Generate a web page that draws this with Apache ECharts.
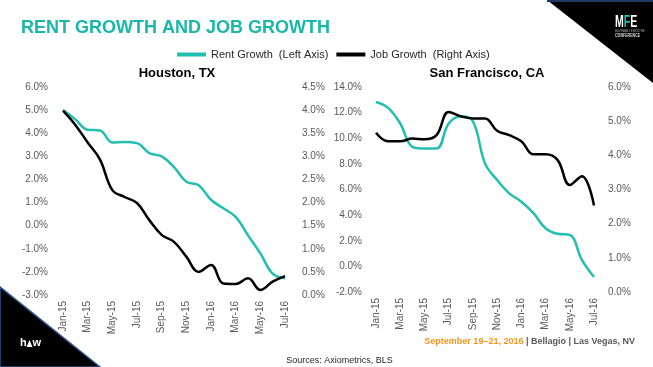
<!DOCTYPE html>
<html>
<head>
<meta charset="utf-8">
<script src="https://cdn.jsdelivr.net/npm/echarts@6/dist/echarts.min.js"></script>
<style>
html,body{margin:0;padding:0;background:#fff;}
#chart{width:653px;height:367px;}
</style>
</head>
<body>
<div id="chart"></div>
<script>
// ---- data ----
var months = ['Jan-15','Feb-15','Mar-15','Apr-15','May-15','Jun-15','Jul-15','Aug-15','Sep-15','Oct-15','Nov-15','Dec-15','Jan-16','Feb-16','Mar-16','Apr-16','May-16','Jun-16','Jul-16'];
var houstonRent = [5.0, 4.6, 4.15, 4.12, 3.6, 3.62, 3.57, 3.14, 3.0, 2.53, 1.9, 1.75, 1.12, 0.75, 0.38, -0.42, -1.2, -2.08, -2.28];
var houstonJob  = [3.99, 3.68, 3.30, 2.93, 2.27, 2.12, 1.99, 1.62, 1.30, 1.15, 0.83, 0.50, 0.65, 0.25, 0.24, 0.36, 0.11, 0.29, 0.41];
var sfRent = [12.83, 12.37, 11.15, 9.33, 9.2, 9.2, 11.15, 11.72, 11.33, 8.04, 6.74, 5.7, 5.05, 4.15, 2.98, 2.54, 2.46, 0.51, -0.83];
var sfJob  = [4.66, 4.41, 4.41, 4.49, 4.47, 4.59, 5.27, 5.14, 5.08, 5.08, 4.72, 4.59, 4.41, 4.03, 4.03, 3.86, 3.13, 3.39, 2.53];
var rentName = 'Rent Growth  (Left Axis)';
var jobName = 'Job Growth  (Right Axis)';
var cityNames = ['Houston, TX', 'San Francisco, CA'];

var TEAL = '#22bfb1';
var FONT = '"Liberation Sans", Arial, sans-serif';
var chart = echarts.init(document.getElementById('chart'), null, {renderer:'canvas'});

function pct(v){ return v.toFixed(1) + '%'; }
function xAxisCfg(gi){
  return {
    type:'category', gridIndex:gi, data:months, boundaryGap:false,
    axisLine:{show:false}, axisTick:{show:false},
    axisLabel:{rotate:90, interval:1, margin:6, fontSize:10, color:'#595959', fontFamily:FONT}
  };
}
function yAxisCfg(gi, pos, min, max, interval, margin){
  return {
    type:'value', gridIndex:gi, position:pos, min:min, max:max, interval:interval,
    axisLine:{show:false}, axisTick:{show:false}, splitLine:{show:false},
    axisLabel:{formatter:pct, fontSize:10, color:'#595959', margin:margin, fontFamily:FONT}
  };
}
function lineSeries(name, xi, yi, data, color){
  return {
    name:name, type:'line', xAxisIndex:xi, yAxisIndex:yi, data:data,
    smooth:0.4, showSymbol:false, symbol:'none',
    lineStyle:{color:color, width:2.5}, itemStyle:{color:color},
    emphasis:{disabled:true}
  };
}

var option = {
  backgroundColor:'#ffffff',
  animation:false,
  textStyle:{fontFamily:FONT},
  title:[
    {text:cityNames[0], left:172, top:62, textAlign:'center',
     textStyle:{fontSize:13, fontWeight:'bold', color:'#000', fontFamily:FONT}},
    {text:cityNames[1], left:482, top:62, textAlign:'center',
     textStyle:{fontSize:13, fontWeight:'bold', color:'#000', fontFamily:FONT}}
  ],
  legend:{
    data:[rentName, jobName], left:172, top:44,
    icon:'rect', itemWidth:29, itemHeight:4, itemGap:8,
    textStyle:{fontSize:11, color:'#262626', fontFamily:FONT}
  },
  grid:[
    {left:63, width:222, top:87, bottom:72},
    {left:376, width:218, top:87, bottom:75}
  ],
  xAxis:[xAxisCfg(0), xAxisCfg(1)],
  yAxis:[
    yAxisCfg(0,'left',-3,6,1,15),
    yAxisCfg(0,'right',0,4.5,0.5,17),
    yAxisCfg(1,'left',-2,14,2,14),
    yAxisCfg(1,'right',0,6,1,14)
  ],
  series:[
    lineSeries(rentName,0,0,houstonRent,TEAL),
    lineSeries(jobName,0,1,houstonJob,'#000000'),
    lineSeries(rentName,1,2,sfRent,TEAL),
    lineSeries(jobName,1,3,sfJob,'#000000')
  ],
  graphic:[
    // page title
    {type:'text', left:21, top:19, style:{text:'RENT GROWTH AND JOB GROWTH', font:'bold 18px ' + FONT, fill:'#17b8a9'}},
    // top-right corner
    {type:'polygon', shape:{points:[[547,0],[653,0],[653,83]]}, style:{fill:'#000'}},
    {type:'rect', shape:{x:547, y:0, width:106, height:2}, style:{fill:'#1f3864'}},
    {type:'text', x:615, y:15, scaleX:0.66, style:{
      text:'{w|M}{t|F}{w|E}', rich:{
        w:{font:'bold 16px ' + FONT, fill:'#fff'},
        t:{font:'bold 16px ' + FONT, fill:TEAL}
      }}},
    {type:'text', x:615, y:30, scaleX:0.8, style:{text:'MULTIFAMILY EXECUTIVE', font:'3px ' + FONT, fill:'#bbb'}},
    {type:'text', x:615, y:33.5, scaleX:0.8, style:{text:'CONFERENCE', font:'bold 4.5px ' + FONT, fill:'#ddd'}},
    // bottom-left corner
    {type:'polygon', shape:{points:[[0,287],[0,367],[100,367]]}, style:{fill:'#000', stroke:'#2f4f8f', lineWidth:1.5}},
    {type:'text', x:20, y:337, style:{text:'h', font:'bold 11px ' + FONT, fill:'#fff'}},
    {type:'polygon', shape:{points:[[29.5,340],[26.5,347],[32.5,347]]}, style:{fill:'#fff'}},
    {type:'text', x:32.5, y:337, style:{text:'w', font:'bold 11px ' + FONT, fill:'#fff'}},
    // footer
    {type:'text', x:635, y:337, style:{
      text:'{o|September 19–21, 2016}{g| | Bellagio | Las Vegas, NV}', align:'right',
      rich:{
        o:{font:'bold 9px ' + FONT, fill:'#f7941d'},
        g:{font:'bold 9px ' + FONT, fill:'#595959'}
      }}},
    {type:'text', x:339.5, y:356, style:{text:'Sources: Axiometrics, BLS', align:'center', font:'9px ' + FONT, fill:'#262626'}}
  ]
};
chart.setOption(option);
</script>
</body>
</html>
